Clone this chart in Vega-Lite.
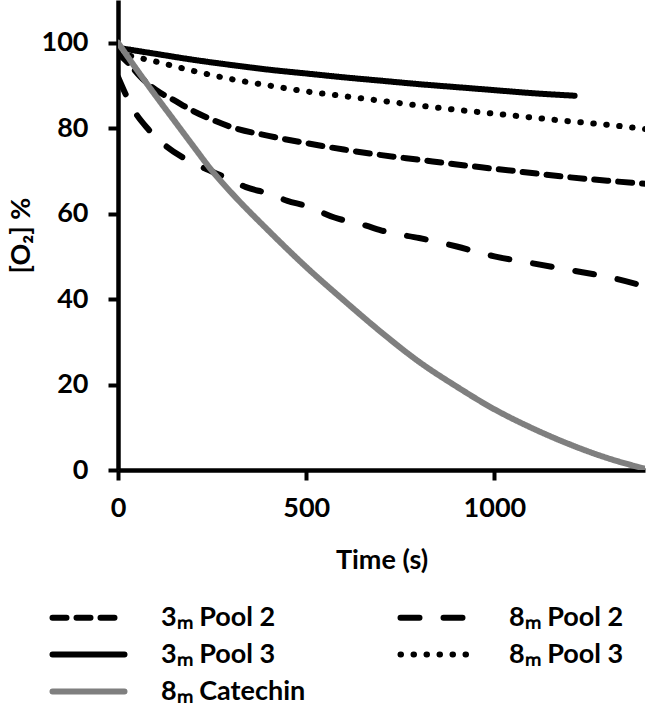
{
  "$schema": "https://vega.github.io/schema/vega-lite/v6.json",
  "width": 527,
  "height": 470,
  "autosize": "none",
  "padding": {"left": 118, "top": 0, "right": 1, "bottom": 245},
  "background": "white",
  "config": {
    "font": "Lato",
    "view": {"stroke": null},
    "axis": {
      "labelFont": "Lato", "labelFontWeight": "bold", "labelFontSize": 27, "labelColor": "black",
      "titleFont": "Lato", "titleFontWeight": "bold", "titleFontSize": 27, "titleColor": "black",
      "domainColor": "black", "domainWidth": 4.5, "tickColor": "black", "tickWidth": 4, "tickSize": 10,
      "grid": false
    },
    "legend": {
      "title": null, "orient": "none", "legendX": -43, "legendY": 604, "direction": "horizontal", "columns": 2,
      "symbolType": "M-4,0H4", "symbolSize": 324, "symbolStrokeWidth": 6,
      "labelFont": "Lato", "labelFontWeight": "bold", "labelFontSize": 27, "labelColor": "black",
      "labelOffset": 59, "columnPadding": 82, "rowPadding": 9, "labelLimit": 300
    }
  },
  "data": {"values": [
    {"s": "3ₘ Pool 2", "t": 0, "o": 97.5},
    {"s": "3ₘ Pool 2", "t": 30, "o": 95},
    {"s": "3ₘ Pool 2", "t": 60, "o": 92},
    {"s": "3ₘ Pool 2", "t": 100, "o": 89},
    {"s": "3ₘ Pool 2", "t": 150, "o": 86.5},
    {"s": "3ₘ Pool 2", "t": 200, "o": 84},
    {"s": "3ₘ Pool 2", "t": 250, "o": 82},
    {"s": "3ₘ Pool 2", "t": 300, "o": 80.3},
    {"s": "3ₘ Pool 2", "t": 400, "o": 78.2},
    {"s": "3ₘ Pool 2", "t": 500, "o": 76.5},
    {"s": "3ₘ Pool 2", "t": 600, "o": 75},
    {"s": "3ₘ Pool 2", "t": 700, "o": 73.7},
    {"s": "3ₘ Pool 2", "t": 800, "o": 72.6},
    {"s": "3ₘ Pool 2", "t": 900, "o": 71.5},
    {"s": "3ₘ Pool 2", "t": 1000, "o": 70.5},
    {"s": "3ₘ Pool 2", "t": 1100, "o": 69.5},
    {"s": "3ₘ Pool 2", "t": 1200, "o": 68.5},
    {"s": "3ₘ Pool 2", "t": 1300, "o": 67.7},
    {"s": "3ₘ Pool 2", "t": 1400, "o": 67},
    {"s": "8ₘ Pool 2", "t": 0, "o": 92},
    {"s": "8ₘ Pool 2", "t": 20, "o": 88},
    {"s": "8ₘ Pool 2", "t": 40, "o": 84.5},
    {"s": "8ₘ Pool 2", "t": 80, "o": 79.8},
    {"s": "8ₘ Pool 2", "t": 125, "o": 76},
    {"s": "8ₘ Pool 2", "t": 175, "o": 73},
    {"s": "8ₘ Pool 2", "t": 230, "o": 70.6},
    {"s": "8ₘ Pool 2", "t": 285, "o": 68.5},
    {"s": "8ₘ Pool 2", "t": 340, "o": 66.2},
    {"s": "8ₘ Pool 2", "t": 400, "o": 64.7},
    {"s": "8ₘ Pool 2", "t": 450, "o": 63},
    {"s": "8ₘ Pool 2", "t": 500, "o": 61.8},
    {"s": "8ₘ Pool 2", "t": 575, "o": 59.1},
    {"s": "8ₘ Pool 2", "t": 650, "o": 57.4},
    {"s": "8ₘ Pool 2", "t": 720, "o": 55.6},
    {"s": "8ₘ Pool 2", "t": 800, "o": 54.3},
    {"s": "8ₘ Pool 2", "t": 900, "o": 52.3},
    {"s": "8ₘ Pool 2", "t": 1000, "o": 50},
    {"s": "8ₘ Pool 2", "t": 1100, "o": 48.4},
    {"s": "8ₘ Pool 2", "t": 1200, "o": 46.8},
    {"s": "8ₘ Pool 2", "t": 1300, "o": 45.2},
    {"s": "8ₘ Pool 2", "t": 1400, "o": 43},
    {"s": "3ₘ Pool 3", "t": 0, "o": 98.8},
    {"s": "3ₘ Pool 3", "t": 100, "o": 97.4},
    {"s": "3ₘ Pool 3", "t": 200, "o": 96},
    {"s": "3ₘ Pool 3", "t": 300, "o": 94.8},
    {"s": "3ₘ Pool 3", "t": 400, "o": 93.7},
    {"s": "3ₘ Pool 3", "t": 500, "o": 92.8},
    {"s": "3ₘ Pool 3", "t": 600, "o": 91.9},
    {"s": "3ₘ Pool 3", "t": 700, "o": 91.1},
    {"s": "3ₘ Pool 3", "t": 800, "o": 90.3},
    {"s": "3ₘ Pool 3", "t": 900, "o": 89.6},
    {"s": "3ₘ Pool 3", "t": 1000, "o": 88.9},
    {"s": "3ₘ Pool 3", "t": 1100, "o": 88.2},
    {"s": "3ₘ Pool 3", "t": 1213, "o": 87.6},
    {"s": "8ₘ Pool 3", "t": 0, "o": 97.5},
    {"s": "8ₘ Pool 3", "t": 90, "o": 95.8},
    {"s": "8ₘ Pool 3", "t": 200, "o": 93.4},
    {"s": "8ₘ Pool 3", "t": 300, "o": 91.5},
    {"s": "8ₘ Pool 3", "t": 400, "o": 90},
    {"s": "8ₘ Pool 3", "t": 500, "o": 88.6},
    {"s": "8ₘ Pool 3", "t": 600, "o": 87.5},
    {"s": "8ₘ Pool 3", "t": 700, "o": 86.4},
    {"s": "8ₘ Pool 3", "t": 800, "o": 85.3},
    {"s": "8ₘ Pool 3", "t": 900, "o": 84.3},
    {"s": "8ₘ Pool 3", "t": 1000, "o": 83.4},
    {"s": "8ₘ Pool 3", "t": 1100, "o": 82.5},
    {"s": "8ₘ Pool 3", "t": 1200, "o": 81.6},
    {"s": "8ₘ Pool 3", "t": 1300, "o": 80.8},
    {"s": "8ₘ Pool 3", "t": 1400, "o": 79.8},
    {"s": "8ₘ Catechin", "t": 0, "o": 100},
    {"s": "8ₘ Catechin", "t": 50, "o": 93.7},
    {"s": "8ₘ Catechin", "t": 100, "o": 87.6},
    {"s": "8ₘ Catechin", "t": 150, "o": 81.7},
    {"s": "8ₘ Catechin", "t": 200, "o": 75.8},
    {"s": "8ₘ Catechin", "t": 250, "o": 70},
    {"s": "8ₘ Catechin", "t": 300, "o": 65},
    {"s": "8ₘ Catechin", "t": 400, "o": 56},
    {"s": "8ₘ Catechin", "t": 500, "o": 47.5},
    {"s": "8ₘ Catechin", "t": 600, "o": 39.7},
    {"s": "8ₘ Catechin", "t": 700, "o": 32.2},
    {"s": "8ₘ Catechin", "t": 800, "o": 25.3},
    {"s": "8ₘ Catechin", "t": 900, "o": 19.5},
    {"s": "8ₘ Catechin", "t": 1000, "o": 14.2},
    {"s": "8ₘ Catechin", "t": 1100, "o": 9.8},
    {"s": "8ₘ Catechin", "t": 1200, "o": 6},
    {"s": "8ₘ Catechin", "t": 1300, "o": 2.8},
    {"s": "8ₘ Catechin", "t": 1400, "o": 0.3}
  ]},
  "mark": {"type": "line", "strokeWidth": 6, "strokeCap": "round", "interpolate": "monotone", "clip": true},
  "encoding": {
    "x": {"field": "t", "type": "quantitative", "title": "Time (s)",
      "scale": {"domain": [0, 1400], "nice": false},
      "axis": {"values": [0, 500, 1000], "format": "d", "labelPadding": 15, "titlePadding": 26, "labelFlush": false}},
    "y": {"field": "o", "type": "quantitative", "title": "[O₂] %",
      "scale": {"domain": [0, 110], "nice": false},
      "axis": {"values": [0, 20, 40, 60, 80, 100], "labelPadding": 20, "titlePadding": 6}},
    "color": {"field": "s", "type": "nominal",
      "scale": {"domain": ["3ₘ Pool 2", "8ₘ Pool 2", "3ₘ Pool 3", "8ₘ Pool 3", "8ₘ Catechin"],
        "range": ["black", "black", "black", "black", "#7f7f7f"]},
      "legend": {"encode": {"symbols": {"update": {"strokeCap": {"value": "round"}}}}}},
    "strokeDash": {"field": "s", "type": "nominal",
      "scale": {"domain": ["3ₘ Pool 2", "8ₘ Pool 2", "3ₘ Pool 3", "8ₘ Pool 3", "8ₘ Catechin"],
        "range": [[14, 10], [19, 24], [1, 0], [0.5, 12.5], [1, 0]]},
      "legend": {"encode": {"symbols": {"update": {"strokeCap": {"value": "round"}}}}}}
  }
}
